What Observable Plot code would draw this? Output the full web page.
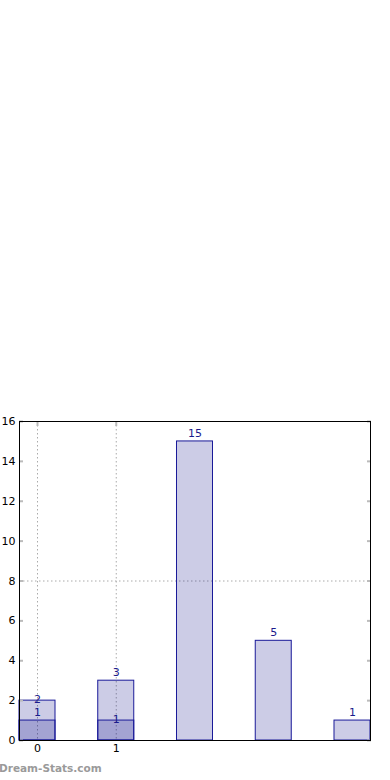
<!DOCTYPE html>
<html>
<head>
<meta charset="utf-8">
<script src="https://cdn.jsdelivr.net/npm/d3@7"></script>
<script src="https://cdn.jsdelivr.net/npm/@observablehq/plot@0.6"></script>
<style>
  html, body { margin: 0; padding: 0; background: #fff; }
  #wrap { position: relative; width: 390px; height: 780px; overflow: hidden; }
  #wm { position: absolute; left: -1px; top: 762px; font: bold 10.5px "DejaVu Sans", sans-serif; color: #9a9a9a; }
</style>
</head>
<body>
<div id="wrap"><div id="chart"></div><div id="wm">Dream-Stats.com</div></div>
<script>
const categories = [0, 1, 2, 3, 4];
const totals = [2, 3, 15, 5, 1];
const subs = [1, 1, 0, 0, 0];
const yTicks = [0, 2, 4, 6, 8, 10, 12, 14, 16];
const xTicks = [0, 1];

const half = 0.2286;
const data = categories.map((c, i) => ({c, total: totals[i], sub: subs[i]}));
const subData = data.filter(d => d.sub > 0);
const font = "DejaVu Sans, sans-serif";
const labelColor = "#1a1a8c";
const empty = () => "";

const chart = Plot.plot({
  width: 390,
  height: 780,
  marginTop: 421,
  marginBottom: 40,
  marginLeft: 19,
  marginRight: 20,
  style: {fontFamily: font, fontSize: "11px", background: "#fff"},
  x: {domain: [-half, 4 + half], axis: null},
  y: {domain: [0, 16], axis: null},
  marks: [
    Plot.gridX(xTicks, {stroke: "#aaa", strokeOpacity: 1, strokeDasharray: "1.5,2.5"}),
    Plot.gridY([8], {stroke: "#aaa", strokeOpacity: 1, strokeDasharray: "1.5,2.5"}),
    Plot.rectY(data, {x1: d => d.c - half, x2: d => d.c + half, y: "total", fill: "#000080", fillOpacity: 0.2, stroke: "#1a1a99", strokeWidth: 1}),
    Plot.rectY(subData, {x1: d => d.c - half, x2: d => d.c + half, y: "sub", fill: "#000080", fillOpacity: 0.2, stroke: "#1a1a99", strokeWidth: 1}),
    Plot.text(data.filter(d => d.c !== 0), {x: "c", y: "total", text: d => String(d.total), dy: -8, fill: labelColor, fontSize: 11}),
    Plot.text(data.filter(d => d.c === 0), {x: "c", y: "total", text: d => String(d.total), dy: -1, fill: labelColor, fontSize: 11}),
    Plot.text(subData.filter(d => d.c === 0), {x: "c", y: "sub", text: d => String(d.sub), dy: -8, fill: labelColor, fontSize: 11}),
    Plot.text(subData.filter(d => d.c !== 0), {x: "c", y: "sub", text: d => String(d.sub), dy: -1, fill: labelColor, fontSize: 11}),
    Plot.axisY({anchor: "left", ticks: yTicks, tickSize: 0, tickPadding: 4, fill: "#000", fontSize: 11, label: null}),
    Plot.axisY({anchor: "left", ticks: yTicks, tickSize: -4, tickFormat: empty, stroke: "#bbb", strokeWidth: 2, label: null}),
    Plot.axisY({anchor: "right", ticks: yTicks, tickSize: -4, tickFormat: empty, stroke: "#bbb", strokeWidth: 2, label: null}),
    Plot.axisX({anchor: "top", ticks: xTicks, tickSize: -4, tickFormat: empty, stroke: "#bbb", strokeWidth: 2, label: null}),
    Plot.axisX({anchor: "bottom", ticks: xTicks, tickSize: 0, tickPadding: 4, tickFormat: d => String(d), fill: "#000", fontSize: 11, label: null}),
    Plot.frame({stroke: "#000", strokeWidth: 1})
  ]
});
document.getElementById("chart").appendChild(chart);
</script>
</body>
</html>
